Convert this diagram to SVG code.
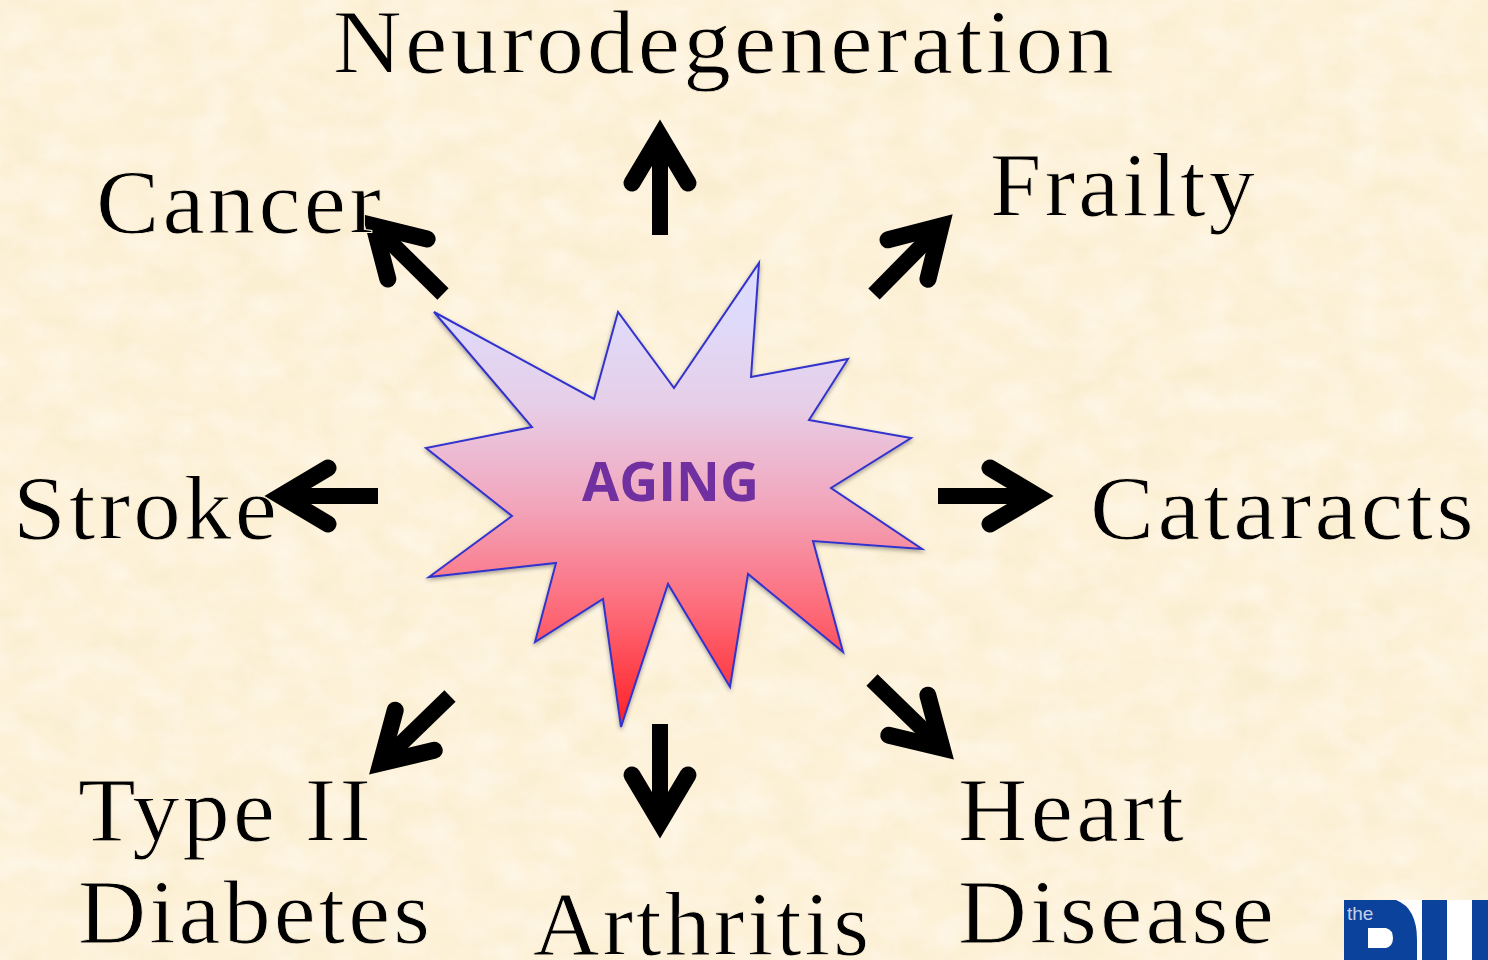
<svg xmlns="http://www.w3.org/2000/svg" width="1488" height="960" viewBox="0 0 1488 960">
<style>
.l{font-family:"Liberation Serif","DejaVu Serif",serif;font-size:90px;fill:#000;letter-spacing:3px;stroke:#fdf1d8;stroke-width:.9px}
.c{fill:none;stroke:#000;stroke-width:16;marker-end:url(#h)}
</style>
<defs>
<marker id="h" markerUnits="userSpaceOnUse" viewBox="-60 -40 90 80" refX="0" refY="0" markerWidth="90" markerHeight="80" orient="auto">
<path d="M-47,-28L0,0L-47,28" fill="none" stroke="#000" stroke-width="17" stroke-linecap="round" stroke-miterlimit="4"/>
</marker>
<linearGradient id="g" gradientUnits="userSpaceOnUse" x1="0" y1="263" x2="0" y2="727">
<stop offset="0" stop-color="#dcdcff"/><stop offset=".12" stop-color="#dfdafa"/><stop offset=".3" stop-color="#e6cfe8"/><stop offset=".52" stop-color="#f2a6bc"/><stop offset=".75" stop-color="#fd6a78"/><stop offset="1" stop-color="#ff1f24"/>
</linearGradient>
<filter id="tex" x="0" y="0" width="100%" height="100%">
<feTurbulence type="fractalNoise" baseFrequency=".022 .03" numOctaves="3" seed="7"/>
<feColorMatrix values="0 0 0 0 .90  0 0 0 0 .80  0 0 0 0 .52  1.6 0 0 0 -.68"/>
</filter>
<filter id="tex2" x="0" y="0" width="100%" height="100%">
<feTurbulence type="fractalNoise" baseFrequency=".026 .034" numOctaves="3" seed="23"/>
<feColorMatrix values="0 0 0 0 1  0 0 0 0 .97  0 0 0 0 .92  1.6 0 0 0 -.62"/>
</filter>
<filter id="s" x="-5%" y="-5%" width="110%" height="110%">
<feDropShadow dx="0" dy="2" stdDeviation="2" flood-color="#000" flood-opacity=".35"/>
</filter>
</defs>
<g id="background">
<rect width="1488" height="960" fill="#fdf1d8"/>
<rect width="1488" height="960" filter="url(#tex)" opacity=".45"/>
<rect width="1488" height="960" filter="url(#tex2)" opacity=".6"/>
</g>
<g id="connectors">
<line class="c" x1="660" y1="235" x2="660" y2="136"/>
<line class="c" x1="874" y1="294" x2="941" y2="226"/>
<line class="c" x1="443" y1="294" x2="374" y2="226"/>
<line class="c" x1="378" y1="496" x2="281" y2="496"/>
<line class="c" x1="938" y1="496" x2="1037" y2="496"/>
<line class="c" x1="450" y1="696" x2="381" y2="763"/>
<line class="c" x1="660" y1="724" x2="660" y2="822"/>
<line class="c" x1="872" y1="680" x2="942" y2="748"/>
</g>
<g id="aging">
<polygon points="434,312 594,399 618,312 674,388 759,263 751,377 848,359 809,420 911,438 831,488 922,549 813,541 843,652 748,574 730,687 668,584 621,727 603,599 535,642 556,563 429,577 512,516 426,448 532,427" fill="url(#g)" stroke="#3333cc" stroke-width="2" filter="url(#s)"/>
<text x="582" y="501" font-family="'Open Sans','Noto Sans',sans-serif" font-weight="700" font-size="54" fill="#7030a0" textLength="177" lengthAdjust="spacingAndGlyphs">AGING</text>
</g>
<g id="neurodegeneration"><text class="l" x="333" y="73" textLength="784" lengthAdjust="spacingAndGlyphs">Neurodegeneration</text></g>
<g id="cancer"><text class="l" x="96" y="233" textLength="288" lengthAdjust="spacingAndGlyphs">Cancer</text></g>
<g id="frailty"><text class="l" x="990" y="216" textLength="268" lengthAdjust="spacingAndGlyphs">Frailty</text></g>
<g id="stroke"><text class="l" x="13" y="539" textLength="267" lengthAdjust="spacingAndGlyphs">Stroke</text></g>
<g id="cataracts"><text class="l" x="1090" y="539" textLength="387" lengthAdjust="spacingAndGlyphs">Cataracts</text></g>
<g id="type2diabetes"><text class="l" x="78" y="841" textLength="296" lengthAdjust="spacingAndGlyphs">Type II</text><text class="l" x="78" y="943" textLength="355" lengthAdjust="spacingAndGlyphs">Diabetes</text></g>
<g id="arthritis"><text class="l" x="533" y="955" textLength="339" lengthAdjust="spacingAndGlyphs">Arthritis</text></g>
<g id="heartdisease"><text class="l" x="958" y="841" textLength="229" lengthAdjust="spacingAndGlyphs">Heart</text><text class="l" x="958" y="943" textLength="319" lengthAdjust="spacingAndGlyphs">Disease</text></g>
<g id="logo">
<rect x="1344" y="900" width="144" height="60" fill="#fff"/>
<path d="M1344,900H1396Q1417,908 1417,940V960H1344Z" fill="#0b429b"/>
<path d="M1368,928H1386Q1393,930 1393,938Q1393,946 1386,948H1368Z" fill="#fff"/>
<rect x="1422" y="900" width="25" height="60" fill="#0b429b"/>
<rect x="1472" y="900" width="16" height="60" fill="#0b429b"/>
<text x="1347" y="920" font-family="'Liberation Sans',sans-serif" font-size="19" fill="#c5d0e8">the</text>
</g>
</svg>
